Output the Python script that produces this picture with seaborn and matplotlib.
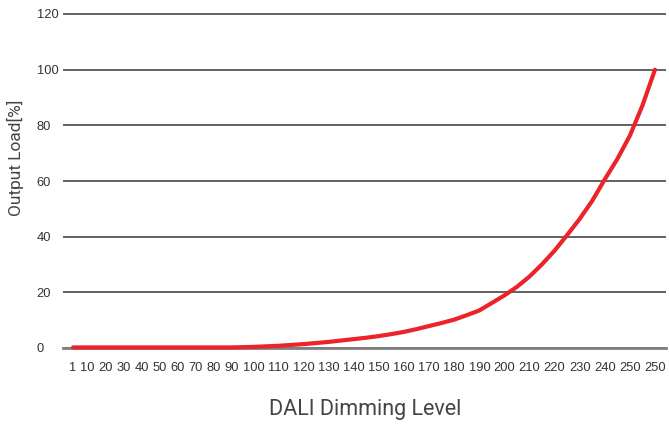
"""DALI dimming curve: output load versus DALI dimming level."""

import matplotlib

matplotlib.use("Agg")
import matplotlib.pyplot as plt
import numpy as np
import pandas as pd
import seaborn as sns

# tick labels along the x axis, as printed (the last one really is 250 twice)
level_labels = [
    "1", "10", "20", "30", "40", "50", "60", "70", "80", "90",
    "100", "110", "120", "130", "140", "150", "160", "170", "180", "190",
    "200", "210", "220", "230", "240", "250", "250",
]
# output load [%] at each tick label
output_load = [
    0.2, 0.2, 0.2, 0.2, 0.2, 0.2, 0.2, 0.2, 0.2, 0.2,
    0.4, 0.8, 1.4, 2.2, 3.2, 4.3, 5.8, 7.9, 10.2, 13.5,
    18.9, 25.7, 35.0, 46.4, 60.6, 76.3, 100.0,
]
# output load [%]
output_load_between = [
    0.2, 0.2, 0.2, 0.2, 0.2, 0.2, 0.2, 0.2, 0.2, 0.3,
    0.6, 1.1, 1.8, 2.7, 3.7, 5.0, 6.8, 9.0, 11.8, 16.2,
    22.0, 30.1, 40.6, 52.9, 67.9, 87.1,
]
y_ticks = [0, 20, 40, 60, 80, 100, 120]


def _label_centres(labels, char_w=7.0, gap=4.0):
    # the source lays its tick labels out like running text, so the
    # spacing follows the width of each label
    centres = [0.0]
    for prev, cur in zip(labels[:-1], labels[1:]):
        centres.append(centres[-1] + (len(prev) + len(cur)) * char_w / 2 + gap)
    return np.asarray(centres)


sns.set_theme(style="white")
plt.rcParams["font.family"] = ["Liberation Sans", "DejaVu Sans"]
label_font = ["Roboto", "DejaVu Sans"]

positions = _label_centres(level_labels)
halfway = (positions[:-1] + positions[1:]) / 2
df = pd.DataFrame(
    {
        "pos": np.concatenate([positions, halfway]),
        "load": list(output_load) + list(output_load_between),
    }
).sort_values("pos")

# y range runs a hair past 120 so the top grid line is not cut in half
y_top = 121
px_per_unit = 334 / 120
ax_h = y_top * px_per_unit

fig = plt.figure(figsize=(6.69, 4.26), dpi=100)
ax = fig.add_axes([63 / 669, 1 - 348 / 426, 603 / 669, ax_h / 426])

sns.lineplot(data=df, x="pos", y="load", sort=True, color="#ea2429", linewidth=3.0, ax=ax, zorder=5)
ax.lines[-1].set_clip_on(False)
ax.lines[-1].set_solid_joinstyle("round")

ax.set_ylim(0, y_top)
ax.set_xlim(positions[0] - 10, positions[-1] + 11)
ax.set_yticks(y_ticks)
ax.set_xticks(positions)
ax.set_xticklabels(level_labels)

for side in ["top", "right", "left"]:
    ax.spines[side].set_visible(False)
ax.spines["bottom"].set_color("#808080")
ax.spines["bottom"].set_linewidth(2.0)
ax.yaxis.grid(True, color="#555555", linewidth=1.3)
ax.xaxis.grid(False)
ax.set_axisbelow(True)

ax.tick_params(axis="both", length=0, labelsize=9.3, labelcolor="#333333")
ax.tick_params(axis="x", pad=10)
ax.tick_params(axis="y", pad=19)
for lab in ax.get_yticklabels():
    lab.set_horizontalalignment("left")

ax.set_xlabel("DALI Dimming Level", fontsize=15.5, color="#444444", family=label_font)
ax.set_ylabel("Output Load[%]", fontsize=12.5, color="#444444", family=label_font)
ax.xaxis.set_label_coords((365 - 63) / 603, -(410 - 348) / ax_h)
ax.yaxis.set_label_coords(-(63 - 15) / 603, (348 - 158) / ax_h)
ax.xaxis.label.set_verticalalignment("center")
ax.yaxis.label.set_verticalalignment("center")

fig.savefig("out.png", dpi=100)
